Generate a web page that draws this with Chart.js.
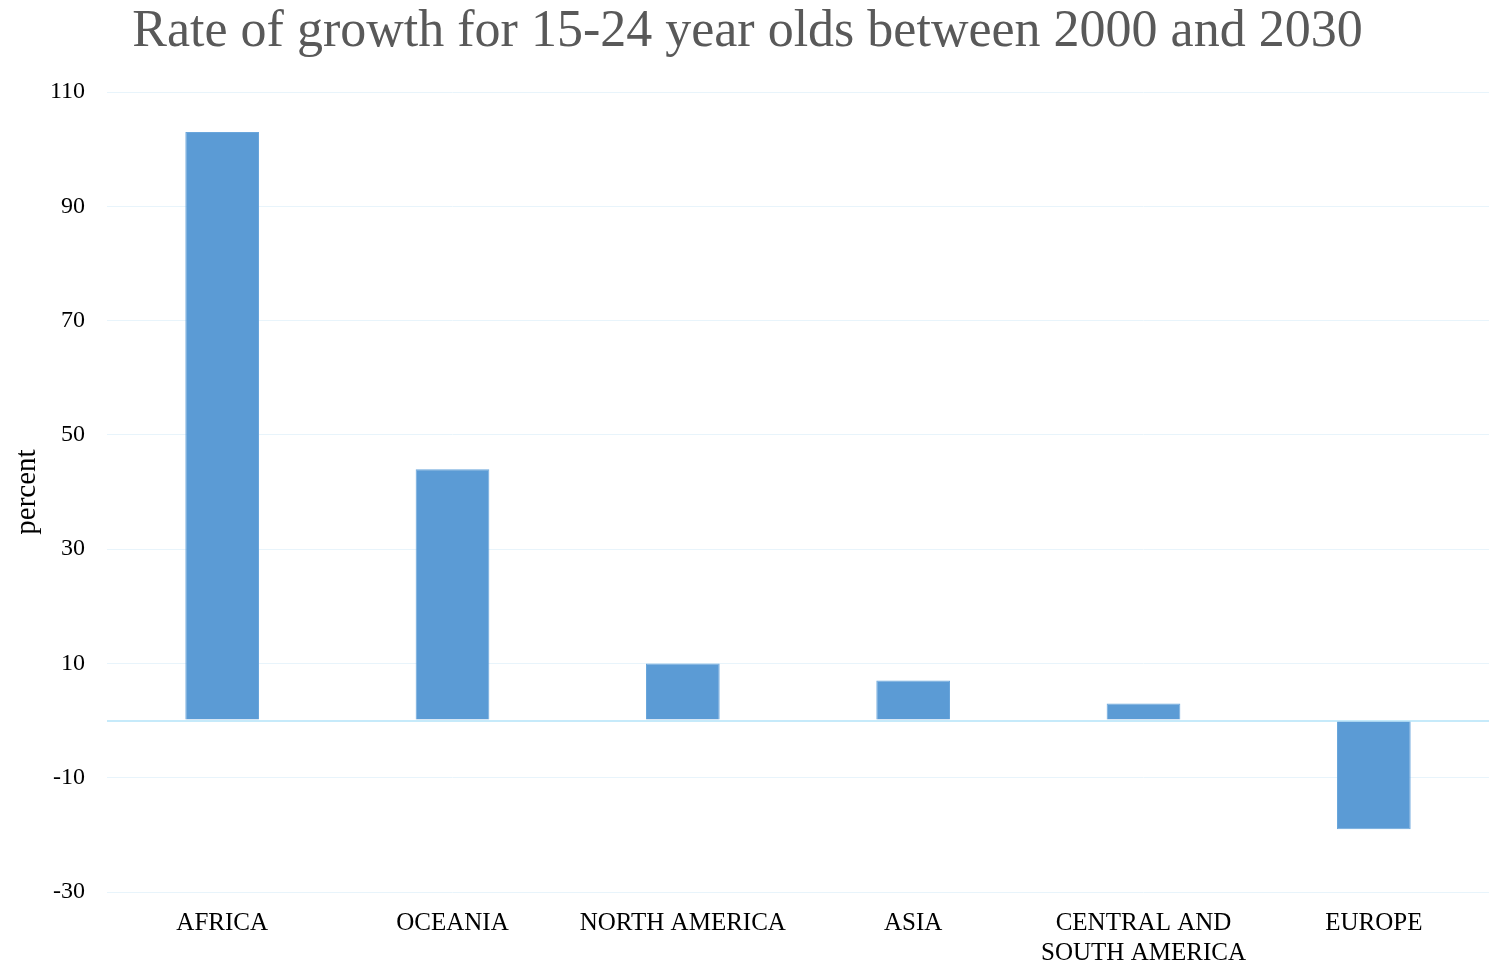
<!DOCTYPE html>
<html>
<head>
<meta charset="utf-8">
<script src="https://cdn.jsdelivr.net/npm/chart.js@4.4.1/dist/chart.umd.min.js"></script>
<style>
html,body{margin:0;padding:0;background:#fff;}
#wrap{width:1489px;height:963px;position:relative;}
</style>
</head>
<body>
<div id="wrap"><canvas id="c" width="1489" height="963"></canvas></div>
<script>
const categories = ['AFRICA', 'OCEANIA', 'NORTH AMERICA', 'ASIA', ['CENTRAL AND', 'SOUTH AMERICA'], 'EUROPE'];
const growthValues = [103, 44, 10, 7, 3, -19];
const yTicks = [-30, -10, 10, 30, 50, 70, 90, 110];

const serif = "'Liberation Serif', 'DejaVu Serif', serif";

new Chart(document.getElementById('c'), {
  type: 'bar',
  data: {
    labels: categories,
    datasets: [{
      data: growthValues,
      backgroundColor: '#5b9bd5',
      borderColor: '#6aa6dc',
      borderWidth: 1,
      barPercentage: 0.32,
      categoryPercentage: 1.0
    }]
  },
  options: {
    responsive: false,
    animation: false,
    devicePixelRatio: 1,
    layout: { padding: { left: 0, right: -6, top: 0, bottom: 0 } },
    plugins: {
      legend: { display: false },
      tooltip: { enabled: false },
      title: {
        display: true,
        text: 'Rate of growth for 15-24 year olds between 2000 and 2030',
        color: '#595959',
        font: { family: serif, size: 52, weight: 'normal', lineHeight: 1.2 },
        padding: { top: 1, bottom: 28.6 }
      }
    },
    scales: {
      x: {
        grid: { display: false, drawTicks: false },
        border: { display: false },
        ticks: {
          color: '#000',
          font: { family: serif, size: 25, lineHeight: 1.2 },
          padding: 16,
          maxRotation: 0,
          autoSkip: false
        },
        afterFit(scale) { scale.height = 71; }
      },
      y: {
        min: -30,
        max: 110,
        afterBuildTicks(scale) {
          scale.ticks = yTicks.concat([0]).sort((a, b) => a - b).map(v => ({ value: v }));
        },
        afterFit(scale) { scale.width = 107; },
        border: { display: false },
        grid: {
          drawTicks: false,
          color: ctx => (ctx.tick && ctx.tick.value === 0) ? '#c6eafa' : '#e8f4fb',
          lineWidth: ctx => (ctx.tick && ctx.tick.value === 0) ? 2 : 1
        },
        ticks: {
          color: '#000',
          font: { family: serif, size: 24 },
          padding: 22,
          callback: v => (v === 0 ? '' : String(v))
        },
        title: {
          display: true,
          text: 'percent',
          color: '#000',
          font: { family: serif, size: 29 },
          padding: { top: 10, bottom: 0 }
        }
      }
    }
  }
});
</script>
</body>
</html>
